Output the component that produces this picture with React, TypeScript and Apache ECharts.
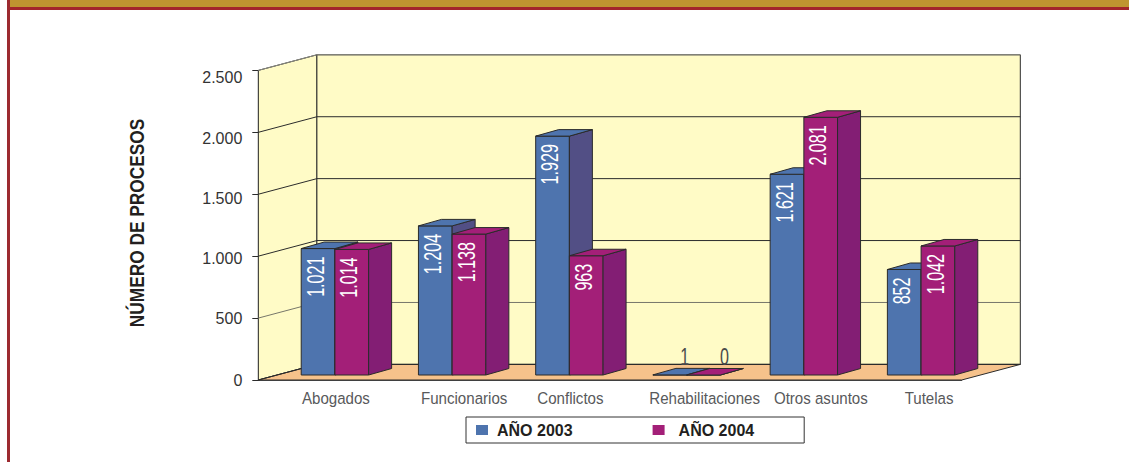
import React, { useEffect, useRef } from "react";
import * as echarts from "echarts";

const categories = ["Abogados", "Funcionarios", "Conflictos", "Rehabilitaciones", "Otros asuntos", "Tutelas"];
const values2003 = [1021, 1204, 1929, 1, 1621, 852];
const values2004 = [1014, 1138, 963, 0, 2081, 1042];
const yTicks = [0, 500, 1000, 1500, 2000, 2500];
const seriesNames = ["AÑO 2003", "AÑO 2004"];
const axisTitle = "NÚMERO DE PROCESOS";
// horizontal nudge (px) of each category label, and vertical nudge of each tick label
const catLabelShift = [19, 30, 19, 36, 35, 26];
const tickLabelShift = [0, 0, 2, 4, 6, 7];
const gridLineColors = ["#2b2b2b", "#77776a", "#2b2b2b", "#2b2b2b", "#2b2b2b", "#8a8a80"];

const DEPTH_X = 58.6;
const DEPTH_Y = -15.6;
const BAR_SHIFT_X = 18;
const BAR_SHIFT_Y = -5;
const BAR_DX = 23;
const BAR_DY = -6.5;
const BAR_RATIO = 0.2875;

const SANS = "'Liberation Sans', Arial, sans-serif";
const LINE = "#2b2b2b";

const fmt = (v: number) => String(v).replace(/\B(?=(\d{3})+$)/g, ".");

function poly(points: number[][], fill: string, stroke = LINE, lineWidth = 1) {
  return { type: "polygon", shape: { points }, style: { fill, stroke, lineWidth } };
}

function barRenderer(side: number, front: string, top: string, dark: string) {
  return (_p: any, api: any) => {
    const cat = api.value(0);
    const val = api.value(1);
    const base = api.coord([cat, 0]);
    const head = api.coord([cat, val]);
    const w = api.size([1, 0])[0] * BAR_RATIO;
    const x0 = base[0] + BAR_SHIFT_X + (side === 0 ? -w : 0);
    const x1 = x0 + w;
    const yb = base[1] + BAR_SHIFT_Y;
    const yt = head[1] + BAR_SHIFT_Y;
    const children: any[] = [
      poly([[x0, yb], [x1, yb], [x1, yt], [x0, yt]], front),
      poly([[x1, yb], [x1 + BAR_DX, yb + BAR_DY], [x1 + BAR_DX, yt + BAR_DY], [x1, yt]], dark),
      poly([[x0, yt], [x1, yt], [x1 + BAR_DX, yt + BAR_DY], [x0 + BAR_DX, yt + BAR_DY]], top),
    ];
    if (val < 50) {
      children.push({
        type: "text",
        x: (x0 + x1) / 2 + (side === 0 ? 15 : 21),
        y: yt - 18,
        scaleX: 0.7,
        style: { text: fmt(val), fill: "#4a4a4a", fontSize: 23, fontFamily: SANS, align: "center", verticalAlign: "middle" },
      });
    } else {
      children.push({
        type: "text",
        x: (x0 + x1) / 2 - 2.5,
        y: yt + 8,
        rotation: Math.PI / 2,
        scaleX: 0.7,
        style: { text: fmt(val), fill: "#ffffff", fontSize: 23, fontFamily: SANS, align: "right", verticalAlign: "middle" },
      });
    }
    return { type: "group", children };
  };
}

export default function App() {
  const ref = useRef<HTMLDivElement>(null);
  useEffect(() => {
    document.body.style.margin = "0";
    const chart = echarts.init(ref.current!, undefined, { renderer: "svg" });
    chart.setOption({
      animation: false,
      backgroundColor: "#ffffff",
      grid: { left: 258.3, right: 167.3, top: 70.4, bottom: 82 },
      legend: {
        left: 466,
        top: 417,
        data: seriesNames,
        orient: "horizontal",
        itemWidth: 12,
        itemHeight: 10,
        itemGap: 80,
        padding: [5, 50, 5, 10],
        backgroundColor: "#ffffff",
        borderColor: "#333333",
        borderWidth: 1,
        borderRadius: 0,
        icon: "rect",
        selectedMode: false,
        formatter: (n: string) => `{${n === seriesNames[0] ? "a" : "b"}|${n}}`,
        textStyle: {
          rich: {
            a: { fontSize: 16, fontWeight: "bold", fontFamily: SANS, color: "#231f20", padding: [0, 0, 0, 4], lineHeight: 13 },
            b: { fontSize: 16, fontWeight: "bold", fontFamily: SANS, color: "#231f20", padding: [0, 0, 0, 9], lineHeight: 13 },
          },
        },
      },
      xAxis: {
        type: "category",
        data: categories,
        axisLine: { show: true, lineStyle: { color: "#555555", width: 1 } },
        axisTick: { show: false },
        axisLabel: { show: false },
      },
      yAxis: {
        type: "value",
        min: 0,
        max: 2500,
        interval: 500,
        splitLine: { show: false },
        axisLine: { show: true, lineStyle: { color: LINE, width: 1 } },
        axisTick: { show: true, length: 6, lineStyle: { color: LINE, width: 1 } },
        axisLabel: {
          margin: 16,
          formatter: (v: number) => `{t${yTicks.indexOf(v)}|${fmt(v)}}`,
          rich: Object.fromEntries(
            tickLabelShift.map((s, i) => [
              `t${i}`,
              { fontSize: 16, fontFamily: SANS, color: "#333333", padding: [s * 2, 0, 0, 0] },
            ]),
          ),
        },
      },
      graphic: [
        { type: "rect", silent: true, z: 100, shape: { x: 10, y: 0, width: 1119, height: 7 }, style: { fill: "#bf9530" } },
        { type: "rect", silent: true, z: 100, shape: { x: 7, y: 7, width: 1122, height: 3 }, style: { fill: "#a3252b" } },
        { type: "rect", silent: true, z: 100, shape: { x: 7, y: 0, width: 3, height: 462 }, style: { fill: "#9c2a30" } },
        {
          type: "text",
          silent: true,
          x: 137,
          y: 223,
          rotation: Math.PI / 2,
          scaleX: 0.865,
          style: { text: axisTitle, fontSize: 20, fontWeight: "bold", fontFamily: SANS, fill: "#231f20", align: "center", verticalAlign: "middle" },
        },
      ],
      series: [
        {
          type: "custom",
          name: "walls",
          silent: true,
          z: 1,
          data: [[0, 0]],
          renderItem: (p: any, _api: any) => {
            const { x, y, width: w, height: h } = p.coordSys;
            const b = y + h;
            return {
              type: "group",
              children: [
                poly([[x, y], [x + DEPTH_X, y + DEPTH_Y], [x + DEPTH_X, b + DEPTH_Y], [x, b]], "#fffbc6"),
                poly(
                  [[x + DEPTH_X, y + DEPTH_Y], [x + w + DEPTH_X, y + DEPTH_Y], [x + w + DEPTH_X, b + DEPTH_Y], [x + DEPTH_X, b + DEPTH_Y]],
                  "#fffbc6",
                ),
                poly([[x, b], [x + DEPTH_X, b + DEPTH_Y], [x + w + DEPTH_X, b + DEPTH_Y], [x + w, b]], "#f6c28b"),
              ],
            };
          },
        },
        {
          type: "custom",
          name: "gridlines",
          silent: true,
          z: 2,
          data: yTicks.map((t) => [0, t]),
          renderItem: (p: any, api: any) => {
            const { x, width: w } = p.coordSys;
            const yy = api.coord([0, api.value(1)])[1];
            return {
              type: "polyline",
              shape: {
                points: [[x, yy], [x + DEPTH_X, yy + DEPTH_Y], [x + w + DEPTH_X, yy + DEPTH_Y]],
              },
              style: { fill: "none", stroke: gridLineColors[p.dataIndex], lineWidth: 1 },
            };
          },
        },
        {
          type: "custom",
          name: seriesNames[0],
          z: 3,
          itemStyle: { color: "#4e74ae" },
          data: values2003.map((v, i) => [i, v]),
          renderItem: barRenderer(0, "#4e74ae", "#4e74ae", "#524f85"),
        },
        {
          type: "custom",
          name: seriesNames[1],
          z: 4,
          itemStyle: { color: "#a31f78" },
          data: values2004.map((v, i) => [i, v]),
          renderItem: barRenderer(1, "#a31f78", "#a31f78", "#831e74"),
        },
        {
          type: "custom",
          name: "categoryLabels",
          silent: true,
          z: 5,
          data: categories.map((_, i) => [i, 0]),
          renderItem: (p: any, api: any) => {
            const pos = api.coord([api.value(0), 0]);
            return {
              type: "text",
              x: pos[0] + catLabelShift[p.dataIndex],
              y: pos[1] + 18,
              scaleX: 0.915,
              style: { text: categories[p.dataIndex], fontSize: 16.5, fontFamily: SANS, fill: "#58595b", align: "center", verticalAlign: "middle" },
            };
          },
        },
      ],
    });
    return () => chart.dispose();
  }, []);
  return <div ref={ref} style={{ width: 1129, height: 462 }} />;
}
